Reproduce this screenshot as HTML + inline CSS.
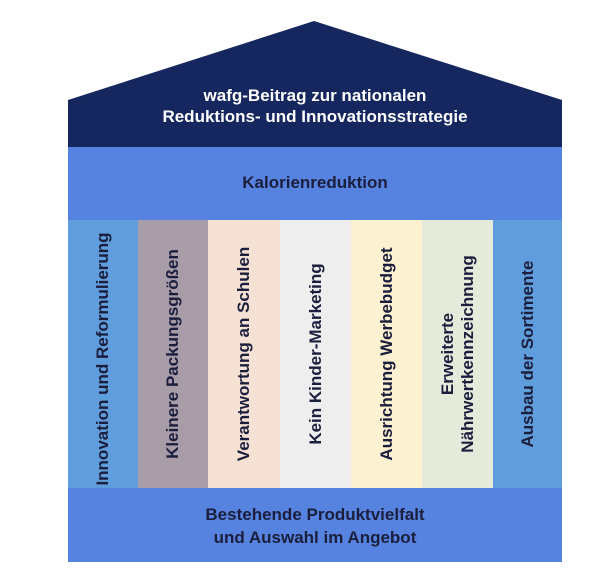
<!DOCTYPE html>
<html><head><meta charset="utf-8"><style>
body{margin:0;width:600px;height:585px;background:#fff;position:relative;overflow:hidden;font-family:"Liberation Sans",sans-serif;font-weight:bold}
.abs{position:absolute}
.p{position:absolute;top:220px;height:268px}
.v{position:absolute;left:50%;top:50%;transform:translate(-50%,-50%) rotate(-90deg);white-space:nowrap;font-size:17px;color:#1b1e3c;text-align:center;line-height:20px}
</style></head><body>
<svg class="abs" style="left:0;top:0" width="600" height="585">
<polygon points="68,100 314,21 562,100 562,148 68,148" fill="#15275e"/>
<rect x="68" y="147" width="494" height="74" fill="#5683df"/>
<rect x="68" y="488" width="494" height="74" fill="#5683df"/>
</svg>
<div class="abs" style="left:68px;width:494px;top:85px;text-align:center;color:#fff;font-size:17px;line-height:21px">wafg-Beitrag zur nationalen<br>Reduktions- und Innovationsstrategie</div>
<div class="abs" style="left:68px;width:494px;top:173px;text-align:center;color:#1b1e3c;font-size:17px">Kalorienreduktion</div>
<div class="p" style="left:68px;width:70px;background:#609ddc"><div class="v" style="top:52%">Innovation und Reformulierung</div></div>
<div class="p" style="left:138px;width:70px;background:#a89ca8"><div class="v">Kleinere Packungsgrößen</div></div>
<div class="p" style="left:208px;width:72px;background:#f6e2d5"><div class="v">Verantwortung an Schulen</div></div>
<div class="p" style="left:280px;width:71px;background:#eeeeee"><div class="v">Kein Kinder-Marketing</div></div>
<div class="p" style="left:351px;width:71px;background:#fcf1d0"><div class="v">Ausrichtung Werbebudget</div></div>
<div class="p" style="left:422px;width:71px;background:#e5eadb"><div class="v">Erweiterte<br>Nährwertkennzeichnung</div></div>
<div class="p" style="left:493px;width:69px;background:#609ddc"><div class="v">Ausbau der Sortimente</div></div>
<div class="abs" style="left:68px;width:494px;top:503px;text-align:center;color:#1b1e3c;font-size:17px;line-height:23px">Bestehende Produktvielfalt<br>und Auswahl im Angebot</div>
</body></html>
